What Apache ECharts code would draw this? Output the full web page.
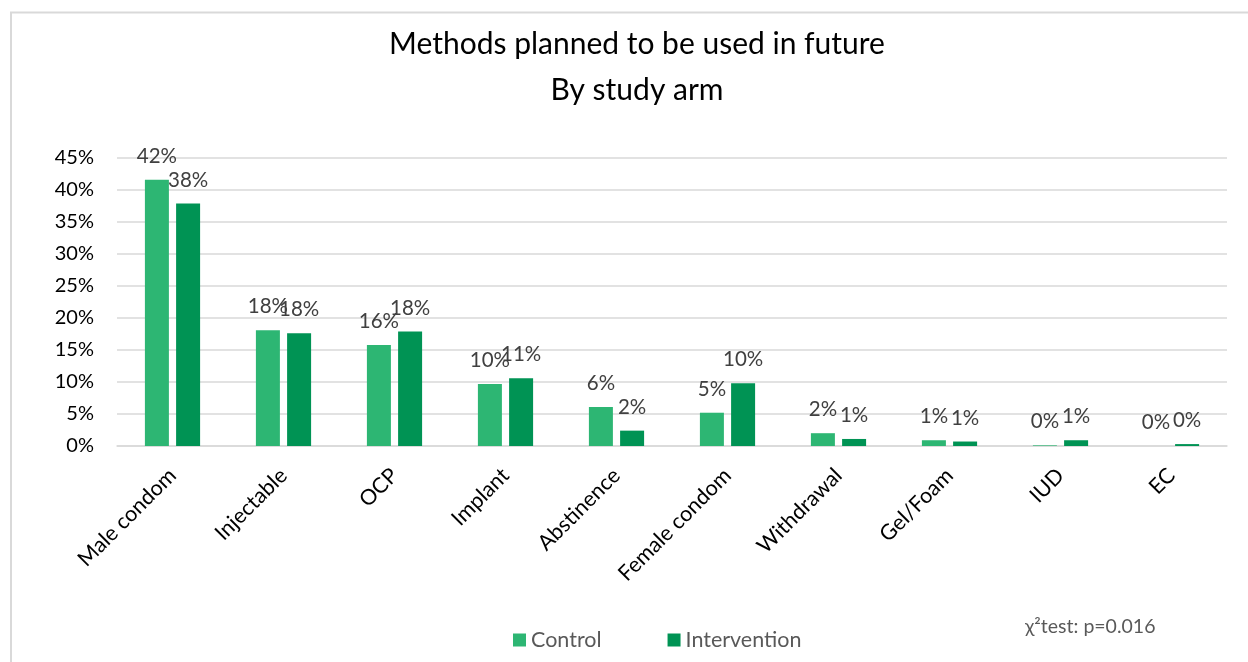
<!DOCTYPE html>
<html>
<head>
<meta charset="utf-8">
<title>Methods planned to be used in future</title>
<script src="https://cdn.jsdelivr.net/npm/echarts@6/dist/echarts.min.js"></script>
<style>
  html, body { margin: 0; padding: 0; background: #ffffff; }
  #chart { width: 1248px; height: 662px; }
</style>
</head>
<body>
<div id="chart"></div>
<script>
// Contraceptive methods, percent of respondents per study arm
const categories = ['Male condom', 'Injectable', 'OCP', 'Implant', 'Abstinence',
                    'Female condom', 'Withdrawal', 'Gel/Foam', 'IUD', 'EC'];
const controlValues      = [41.6, 18.1, 15.8, 9.7, 6.1, 5.2, 2.0, 0.9, 0.1, 0.0];
const interventionValues = [37.9, 17.6, 17.9, 10.6, 2.4, 9.8, 1.1, 0.7, 0.9, 0.3];
const yTicks = { min: 0, max: 45, step: 5 };
const seriesNames = ['Control', 'Intervention'];

const FONT = 'Lato, "Open Sans", sans-serif';
const GRID_COLOR = '#d9d9d9';

const chart = echarts.init(document.getElementById('chart'), null, { renderer: 'canvas' });

const pctLabel = {
  show: true,
  position: 'top',
  distance: 13,
  fontFamily: FONT,
  fontSize: 20.5,
  color: '#404040',
  formatter: p => Math.round(p.value) + '%'
};

chart.setOption({
  animation: false,
  backgroundColor: '#ffffff',
  textStyle: { fontFamily: FONT },
  title: {
    text: 'Methods planned to be used in future\nBy study arm',
    left: 632,
    top: 16,
    textAlign: 'center',
    textStyle: {
      fontFamily: FONT,
      fontSize: 30,
      fontWeight: 'normal',
      color: '#000000',
      lineHeight: 46
    }
  },
  legend: {
    data: seriesNames,
    left: 508,
    top: 624,
    icon: 'rect',
    itemWidth: 13,
    itemHeight: 13,
    itemGap: 66,
    textStyle: { fontFamily: FONT, fontSize: 21.5, color: '#595959' }
  },
  grid: { left: 117, right: 21, top: 158, bottom: 216 },
  xAxis: {
    type: 'category',
    data: categories,
    axisLine: { lineStyle: { color: GRID_COLOR, width: 1.5 } },
    axisTick: { show: false },
    axisLabel: {
      rotate: 45,
      margin: 26,
      interval: 0,
      fontFamily: FONT,
      fontSize: 21.5,
      color: '#000000'
    }
  },
  yAxis: {
    type: 'value',
    min: yTicks.min,
    max: yTicks.max,
    interval: yTicks.step,
    axisLine: { show: false },
    axisTick: { show: false },
    splitLine: { lineStyle: { color: GRID_COLOR, width: 1.5 } },
    axisLabel: {
      margin: 23,
      fontFamily: FONT,
      fontSize: 20,
      color: '#000000',
      formatter: '{value}%'
    }
  },
  series: [
    {
      name: seriesNames[0],
      type: 'bar',
      data: controlValues,
      barWidth: 24,
      barGap: '30%',
      itemStyle: { color: '#2db673' },
      label: pctLabel
    },
    {
      name: seriesNames[1],
      type: 'bar',
      data: interventionValues,
      barWidth: 24,
      barGap: '30%',
      itemStyle: { color: '#009354' },
      label: pctLabel
    }
  ],
  graphic: [
    {
      type: 'rect',
      silent: true,
      shape: { x: 11, y: 12.5, width: 1300, height: 700 },
      style: { fill: 'none', stroke: GRID_COLOR, lineWidth: 2 }
    },
    {
      type: 'text',
      left: 1025,
      top: 617,
      style: {
        text: 'χ²test: p=0.016',
        fontFamily: FONT,
        fontSize: 19.5,
        fill: '#595959'
      }
    }
  ]
});
</script>
</body>
</html>
